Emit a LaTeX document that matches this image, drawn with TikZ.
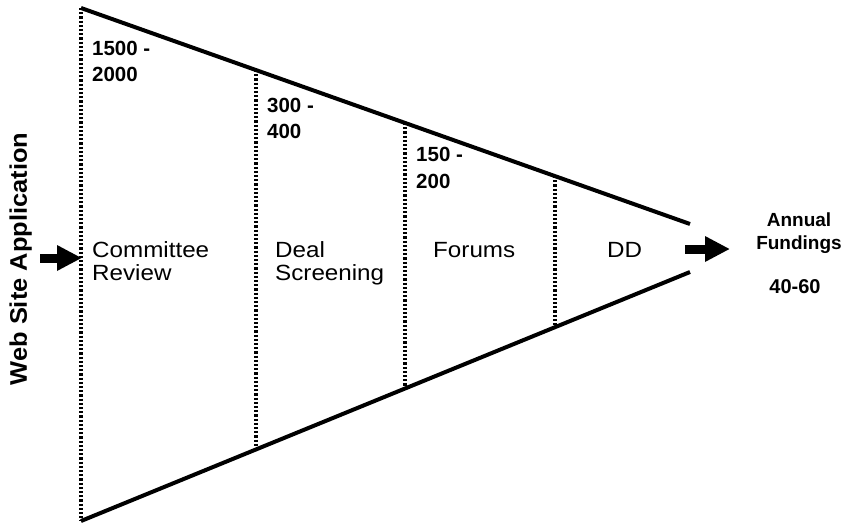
\documentclass[tikz,border=0pt]{standalone}
\usepackage{fontspec}
\setmainfont{Liberation Sans}
\newfontfamily\regfont[FakeStretch=1.1]{Liberation Sans}
\usetikzlibrary{arrows.meta}
\tikzset{
  funnel/.style={line width=4pt},
  stage/.style={line width=3.2pt, dash pattern=on 2.2pt off 2pt},
  blockarrow/.style={line width=9pt, -{Triangle[length=25pt,width=24pt]}},
  countlbl/.style={anchor=base west, inner sep=0pt, align=left, font={\bfseries\fontsize{20.5}{26.5}\selectfont}},
  stagelbl/.style={anchor=base west, inner sep=0pt, align=left, font={\regfont\fontsize{22}{23}\selectfont}},
  outlbl/.style={anchor=base, inner sep=0pt, align=center, font={\bfseries\fontsize{19}{23}\selectfont}}
}
\begin{document}
\begin{tikzpicture}[x=1pt,y=-1pt]
\useasboundingbox (0,0) rectangle (846,524);
% funnel corners
\coordinate (TL) at (81,8);
\coordinate (BL) at (81,521);
\coordinate (TR) at (690,224);
\coordinate (BR) at (690,272);
% stage boundaries
\coordinate (T1) at (256,70);
\coordinate (B1) at (256,449.5);
\coordinate (T2) at (405,123);
\coordinate (B2) at (405,388.5);
\coordinate (T3) at (555,176);
\coordinate (B3) at (555,327);
\draw[funnel] (TL) -- (TR);
\draw[funnel] (BL) -- (BR);
\draw[stage] (TL) -- (BL);
\draw[stage] (T1) -- (B1);
\draw[stage] (T2) -- (B2);
\draw[stage] (T3) -- (B3);
% labels (base anchor = last line baseline)
\node[countlbl] (n1) at (92,82) {1500 -\\2000};
\node[countlbl] (n2) at (267,139) {300 -\\400};
\node[countlbl] (n3) at (416,188) {150 -\\200};
\node[stagelbl] (s1) at (92,280) {Committee\\Review};
\node[stagelbl] (s2) at (275,280) {Deal\\Screening};
\node[stagelbl] (s3) at (433,257) {Forums};
\node[stagelbl] (s4) at (607,257) {DD};
\node[anchor=base, inner sep=0pt, rotate=90, font={\bfseries\fontsize{24}{28}\selectfont\addfontfeature{FakeStretch=1.06}}] (web) at (27,259) {Web Site Application};
\node[outlbl] (out) at (799,249) {Annual\\Fundings};
\node[anchor=base, inner sep=0pt, font={\bfseries\fontsize{20}{24}\selectfont}] (num) at (795,293) {40-60};
% arrows
\coordinate (inS) at (40,258);
\coordinate (inE) at (82,258);
\coordinate (outS) at (685,249);
\coordinate (outE) at (730,249);
\draw[blockarrow] (inS) -- (inE);
\draw[blockarrow] (outS) -- (outE);
\end{tikzpicture}
\end{document}
